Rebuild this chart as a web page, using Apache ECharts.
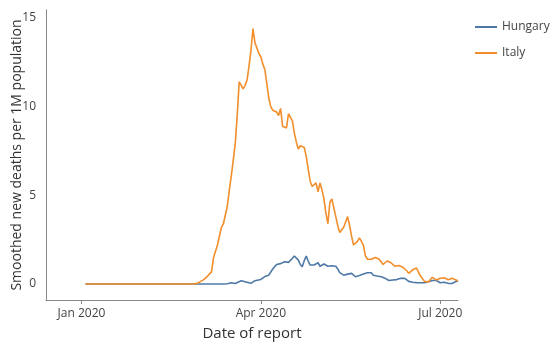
<!DOCTYPE html>
<html>
<head>
<meta charset="utf-8">
<script src="https://cdn.jsdelivr.net/npm/echarts@6/dist/echarts.min.js"></script>
<style>
html,body{margin:0;padding:0;background:#fff;}
#chart{width:550px;height:351px;}
</style>
</head>
<body>
<div id="chart"></div>
<script>
const xTicks = ["2020-01-01", "2020-04-01", "2020-07-01"];
const yTicks = [0, 5, 10, 15];
const seriesNames = ["Hungary", "Italy"];

const hungary = [
["2020-01-03",0],["2020-03-13",0],["2020-03-15",0.02],["2020-03-17",0.07],["2020-03-19",0.03],["2020-03-20",0.1],
["2020-03-22",0.19],["2020-03-23",0.15],["2020-03-24",0.13],["2020-03-25",0.18],["2020-03-27",0.04],["2020-03-28",0.12],
["2020-03-29",0.19],["2020-03-30",0.2],["2020-04-01",0.26],["2020-04-02",0.35],["2020-04-03",0.42],["2020-04-04",0.4],
["2020-04-05",0.5],["2020-04-06",0.6],["2020-04-07",0.85],["2020-04-08",0.98],["2020-04-09",1.1],["2020-04-10",1.07],
["2020-04-11",1.15],["2020-04-12",1.17],["2020-04-13",1.26],["2020-04-14",1.2],["2020-04-15",1.22],["2020-04-16",1.3],
["2020-04-17",1.45],["2020-04-18",1.58],["2020-04-19",1.5],["2020-04-20",1.35],["2020-04-21",1.1],["2020-04-22",0.98],
["2020-04-23",1.31],["2020-04-24",1.58],["2020-04-25",1.3],["2020-04-26",1.07],["2020-04-27",1.05],["2020-04-28",1.07],
["2020-04-29",1.1],["2020-04-30",1.2],["2020-05-01",1.0],["2020-05-02",1.05],["2020-05-03",1.13],["2020-05-04",1.05],
["2020-05-05",1.0],["2020-05-06",0.98],["2020-05-07",1.03],["2020-05-08",1.07],["2020-05-09",1.0],["2020-05-10",0.85],
["2020-05-11",0.64],["2020-05-12",0.55],["2020-05-13",0.5],["2020-05-14",0.5],["2020-05-15",0.56],["2020-05-16",0.6],
["2020-05-17",0.6],["2020-05-18",0.5],["2020-05-19",0.41],["2020-05-20",0.4],["2020-05-21",0.48],["2020-05-22",0.5],
["2020-05-23",0.56],["2020-05-24",0.6],["2020-05-25",0.64],["2020-05-26",0.62],["2020-05-27",0.64],["2020-05-28",0.5],
["2020-05-29",0.55],["2020-05-30",0.45],["2020-05-31",0.44],["2020-06-01",0.41],["2020-06-02",0.35],["2020-06-03",0.32],
["2020-06-04",0.3],["2020-06-05",0.2],["2020-06-06",0.15],["2020-06-07",0.23],["2020-06-08",0.26],["2020-06-09",0.25],
["2020-06-10",0.3],["2020-06-11",0.32],["2020-06-12",0.36],["2020-06-13",0.32],["2020-06-14",0.23],["2020-06-15",0.15],
["2020-06-16",0.13],["2020-06-17",0.1],["2020-06-18",0.13],["2020-06-19",0.08],["2020-06-20",0.07],["2020-06-21",0.07],
["2020-06-22",0.07],["2020-06-23",0.08],["2020-06-24",0.13],["2020-06-25",0.13],["2020-06-26",0.15],["2020-06-27",0.2],
["2020-06-28",0.23],["2020-06-29",0.2],["2020-06-30",0.13],["2020-07-01",0.07],["2020-07-02",0.08],["2020-07-03",0.1],
["2020-07-04",0.07],["2020-07-05",0.04],["2020-07-06",0.02],["2020-07-07",0.03],["2020-07-08",0.07],["2020-07-09",0.15],
["2020-07-10",0.19]
];

const italy = [
["2020-01-03",0],["2020-02-27",0],["2020-02-29",0.05],["2020-03-01",0.1],["2020-03-03",0.25],["2020-03-05",0.45],
["2020-03-07",0.7],["2020-03-08",1.5],["2020-03-10",2.2],["2020-03-12",3.2],["2020-03-13",3.4],["2020-03-14",3.5],
["2020-03-15",4.4],["2020-03-16",5.3],["2020-03-17",6.1],["2020-03-18",7.0],["2020-03-19",7.9],["2020-03-20",9.5],
["2020-03-21",11.4],["2020-03-22",11.2],["2020-03-23",11.0],["2020-03-24",11.2],["2020-03-25",11.5],["2020-03-26",12.3],
["2020-03-27",13.2],["2020-03-28",14.4],["2020-03-29",13.6],["2020-03-30",13.3],["2020-03-31",13.0],["2020-04-01",12.8],
["2020-04-02",12.4],["2020-04-03",12.1],["2020-04-04",11.3],["2020-04-05",10.5],["2020-04-06",10.0],["2020-04-07",9.8],
["2020-04-08",9.8],["2020-04-09",9.7],["2020-04-10",9.5],["2020-04-11",9.9],["2020-04-12",8.9],["2020-04-13",8.9],
["2020-04-14",8.8],["2020-04-15",9.6],["2020-04-16",9.5],["2020-04-17",9.2],["2020-04-18",8.5],["2020-04-19",8.0],
["2020-04-20",7.6],["2020-04-21",7.8],["2020-04-22",7.9],["2020-04-23",7.7],["2020-04-24",7.2],["2020-04-25",6.5],
["2020-04-26",5.8],["2020-04-27",5.5],["2020-04-28",5.4],["2020-04-29",5.7],["2020-04-30",5.2],["2020-05-01",5.7],
["2020-05-02",5.3],["2020-05-03",4.8],["2020-05-04",4.0],["2020-05-05",3.4],["2020-05-06",4.6],["2020-05-07",4.8],
["2020-05-08",4.3],["2020-05-09",3.8],["2020-05-10",3.3],["2020-05-11",2.9],["2020-05-12",3.0],["2020-05-13",3.2],
["2020-05-14",3.5],["2020-05-15",3.8],["2020-05-16",3.3],["2020-05-17",2.7],["2020-05-18",2.2],["2020-05-19",2.3],
["2020-05-20",2.4],["2020-05-21",2.6],["2020-05-22",2.4],["2020-05-23",2.2],["2020-05-24",1.6],["2020-05-25",1.4],
["2020-05-26",1.3],["2020-05-27",1.4],["2020-05-28",1.5],["2020-05-29",1.5],["2020-05-30",1.5],["2020-05-31",1.4],
["2020-06-01",1.35],["2020-06-02",1.1],["2020-06-03",1.0],["2020-06-04",1.3],["2020-06-05",1.35],["2020-06-06",1.2],
["2020-06-07",1.1],["2020-06-08",1.0],["2020-06-09",1.07],["2020-06-10",1.05],["2020-06-11",1.0],["2020-06-12",0.95],
["2020-06-13",0.9],["2020-06-14",0.75],["2020-06-15",0.6],["2020-06-16",0.7],["2020-06-17",0.8],["2020-06-18",0.85],
["2020-06-19",0.9],["2020-06-20",0.65],["2020-06-21",0.45],["2020-06-22",0.3],["2020-06-23",0.15],["2020-06-24",0.07],
["2020-06-25",0.12],["2020-06-26",0.25],["2020-06-27",0.38],["2020-06-28",0.3],["2020-06-29",0.23],["2020-06-30",0.3],
["2020-07-01",0.33],["2020-07-02",0.41],["2020-07-03",0.35],["2020-07-04",0.27],["2020-07-05",0.24],["2020-07-06",0.23],
["2020-07-07",0.32],["2020-07-08",0.3],["2020-07-09",0.23],["2020-07-10",0.19]
];

const MONTHS = ["Jan","Feb","Mar","Apr","May","Jun","Jul","Aug","Sep","Oct","Nov","Dec"];
const FONT = "'Open Sans', 'Noto Sans', sans-serif";
const ts = s => Date.UTC(+s.slice(0,4), +s.slice(5,7) - 1, +s.slice(8,10));
const chart = echarts.init(document.getElementById('chart'), null, {renderer: 'canvas'});
chart.setOption({
  animation: false,
  backgroundColor: '#ffffff',
  color: ['#4e79a7', '#f28e2b'],
  textStyle: {fontFamily: FONT},
  grid: {left: 46, right: 92, top: 10, bottom: 51, containLabel: false, outerBoundsMode: 'none'},
  legend: {
    data: seriesNames,
    orient: 'vertical',
    left: 470, top: 16,
    itemWidth: 22, itemHeight: 2, itemGap: 14,
    icon: 'rect',
    textStyle: {fontFamily: FONT, fontSize: 12, color: '#444'}
  },
  xAxis: {
    type: 'value',
    min: ts('2019-12-14'),
    max: ts('2020-07-10'),
    name: 'Date of report',
    nameLocation: 'middle',
    nameGap: 26,
    nameMoveOverlap: false,
    nameTextStyle: {fontFamily: FONT, fontSize: 15, color: '#333'},
    axisLine: {show: true, onZero: false, lineStyle: {color: '#888', width: 1}},
    axisTick: {show: true, length: 4, lineStyle: {color: '#888'}, customValues: xTicks.map(ts)},
    axisLabel: {
      fontFamily: FONT, fontSize: 12, color: '#444', margin: 8,
      customValues: xTicks.map(ts),
      formatter: v => { const d = new Date(v); return MONTHS[d.getUTCMonth()] + ' ' + d.getUTCFullYear(); }
    },
    splitLine: {show: false}
  },
  yAxis: {
    type: 'value',
    min: -0.9, max: 15.45,
    name: 'Smoothed new deaths per 1M population',
    nameLocation: 'middle',
    nameGap: 22,
    nameMoveOverlap: false,
    nameTextStyle: {fontFamily: FONT, fontSize: 14, color: '#333'},
    axisLine: {show: true, onZero: false, lineStyle: {color: '#888', width: 1}},
    axisTick: {show: false, customValues: yTicks},
    axisLabel: {fontFamily: FONT, fontSize: 12, color: '#444', margin: 10, customValues: yTicks},
    splitLine: {show: false}
  },
  series: [
    {name: seriesNames[0], type: 'line', data: hungary.map(p => [ts(p[0]), p[1]]), showSymbol: false, symbol: 'none', lineStyle: {width: 1.6}},
    {name: seriesNames[1], type: 'line', data: italy.map(p => [ts(p[0]), p[1]]), showSymbol: false, symbol: 'none', lineStyle: {width: 1.6}}
  ]
});
</script>
</body>
</html>
